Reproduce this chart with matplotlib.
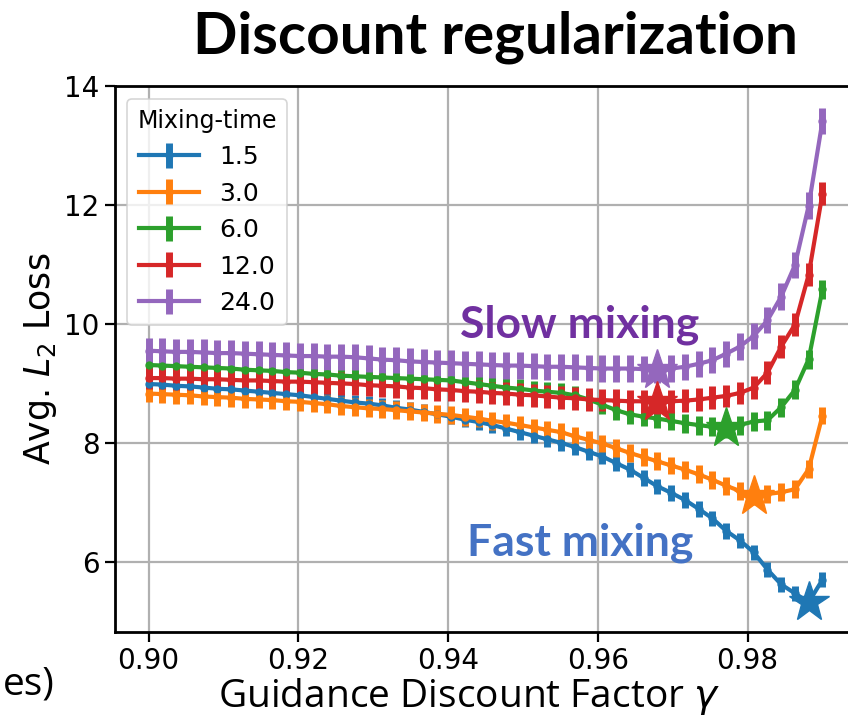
import matplotlib
matplotlib.use("Agg")
import matplotlib.pyplot as plt
import numpy as np

# discount factors swept (50 values between 0.90 and 0.99)
gammas = np.linspace(0.90, 0.99, 50)

mixing_times = ["1.5", "3.0", "6.0", "12.0", "24.0"]

loss_1_5 = [8.99, 8.98, 8.96, 8.95, 8.93, 8.91, 8.90, 8.88, 8.86, 8.84,
            8.82, 8.80, 8.77, 8.74, 8.71, 8.68, 8.66, 8.63, 8.59, 8.56,
            8.52, 8.48, 8.44, 8.39, 8.35, 8.30, 8.24, 8.18, 8.12, 8.06,
            8.00, 7.93, 7.85, 7.77, 7.66, 7.55, 7.41, 7.27, 7.16, 7.04,
            6.89, 6.73, 6.52, 6.36, 6.16, 5.87, 5.62, 5.47, 5.32, 5.70]
loss_3_0 = [8.83, 8.82, 8.81, 8.80, 8.78, 8.77, 8.76, 8.74, 8.73, 8.72,
            8.70, 8.69, 8.67, 8.65, 8.62, 8.60, 8.58, 8.57, 8.55, 8.53,
            8.51, 8.49, 8.47, 8.44, 8.41, 8.37, 8.34, 8.30, 8.26, 8.22,
            8.18, 8.11, 8.05, 7.99, 7.91, 7.83, 7.76, 7.69, 7.62, 7.55,
            7.47, 7.38, 7.28, 7.19, 7.10, 7.14, 7.17, 7.22, 7.56, 8.46]
loss_6_0 = [9.31, 9.30, 9.29, 9.28, 9.27, 9.26, 9.25, 9.23, 9.22, 9.21,
            9.19, 9.18, 9.16, 9.15, 9.13, 9.12, 9.11, 9.10, 9.09, 9.08,
            9.07, 9.06, 9.05, 9.02, 8.99, 8.96, 8.93, 8.91, 8.88, 8.86,
            8.84, 8.80, 8.73, 8.64, 8.55, 8.48, 8.44, 8.41, 8.37, 8.33,
            8.30, 8.27, 8.25, 8.30, 8.36, 8.38, 8.60, 8.89, 9.41, 10.58]
loss_12_0 = [9.09, 9.09, 9.08, 9.08, 9.07, 9.07, 9.06, 9.05, 9.05, 9.04,
             9.03, 9.03, 9.02, 9.01, 9.00, 8.99, 8.97, 8.96, 8.95, 8.93,
             8.92, 8.90, 8.89, 8.87, 8.86, 8.84, 8.83, 8.81, 8.80, 8.78,
             8.76, 8.75, 8.73, 8.72, 8.71, 8.70, 8.70, 8.68, 8.70, 8.71,
             8.73, 8.76, 8.79, 8.84, 8.93, 9.18, 9.62, 9.99, 10.83, 12.19]
loss_24_0 = [9.55, 9.54, 9.53, 9.53, 9.52, 9.51, 9.51, 9.50, 9.49, 9.48,
             9.47, 9.46, 9.46, 9.45, 9.45, 9.44, 9.42, 9.40, 9.39, 9.37,
             9.36, 9.35, 9.34, 9.33, 9.32, 9.31, 9.30, 9.30, 9.29, 9.28,
             9.28, 9.27, 9.26, 9.25, 9.25, 9.25, 9.24, 9.23, 9.25, 9.28,
             9.33, 9.39, 9.50, 9.62, 9.80, 10.06, 10.46, 10.99, 11.99, 13.41]

# half-width of the error bars for each mixing time
loss_err = [0.13, 0.15, 0.16, 0.19, 0.22]

colors = ["C0", "C1", "C2", "C3", "C4"]
all_losses = [loss_1_5, loss_3_0, loss_6_0, loss_12_0, loss_24_0]

fig = plt.figure(figsize=(8.48, 7.2), dpi=100)
ax = fig.add_axes([0.1356, 0.1222, 0.874, 0.7583])

for name, loss, err, c in zip(mixing_times, all_losses, loss_err, colors):
    loss = np.array(loss)
    ax.errorbar(gammas, loss, yerr=err, color=c, lw=3, elinewidth=5,
                capsize=0, marker="o", ms=5, label=name)
    best = np.argmin(loss)
    ax.plot(gammas[best], loss[best], marker="*", ms=30, color=c, zorder=3)

ax.set_xlim(0.8955, 0.9945)
ax.set_ylim(4.82, 14.0)
ax.set_xticks([0.90, 0.92, 0.94, 0.96, 0.98])
ax.set_yticks([6, 8, 10, 12, 14])
ax.grid(True, color="#b0b0b0", lw=1.6)
ax.set_axisbelow(True)
for s in ax.spines.values():
    s.set_linewidth(2)
ax.tick_params(length=7, width=1.6, labelsize=20, pad=4)
ax.set_ylabel(r"Avg. $L_2$ Loss", fontsize=25, labelpad=4)

leg = ax.legend(title="Mixing-time", loc="upper left", fontsize=18,
                title_fontsize=17, handlelength=2.4)
leg.get_frame().set_linewidth(1.2)

fig.text(0.584, 0.926, "Discount regularization", fontsize=42,
         family="Lato", weight="bold", ha="center", va="baseline")
fig.text(0.684, 0.5306, "Slow mixing", fontsize=32, family="Lato",
         weight="bold", color="#7030A0", ha="center", va="baseline")
fig.text(0.684, 0.229, "Fast mixing", fontsize=32, family="Lato",
         weight="bold", color="#4472C4", ha="center", va="baseline")
fig.text(0.553, 0.018, r"Guidance Discount Factor $\gamma$", fontsize=28,
         family="Open Sans", ha="center", va="baseline")
fig.text(0.003, 0.036, "es)", fontsize=28, family="Open Sans",
         ha="left", va="baseline")

fig.savefig("out.png", dpi=100)
